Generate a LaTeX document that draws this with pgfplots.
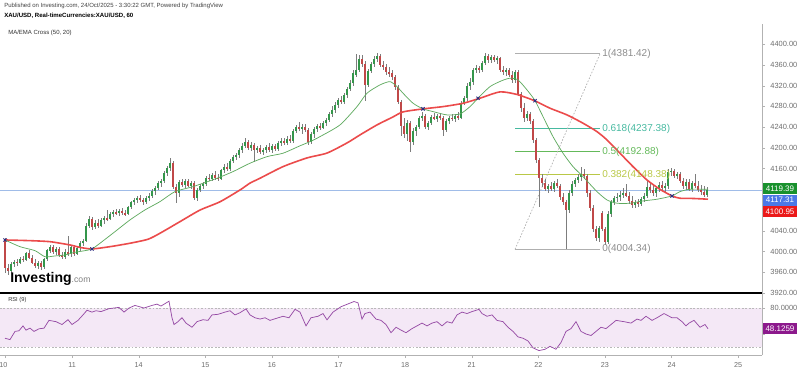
\documentclass[border=0pt]{standalone}
\usepackage{pgfplots}
\usepackage{pgfplotstable}
\pgfplotsset{compat=1.18}
\usepackage{fontspec}
\setmainfont{Liberation Sans}
\definecolor{cup}{RGB}{52,150,75}
\definecolor{cdn}{RGB}{192,72,72}
\definecolor{wick}{RGB}{125,125,125}
\definecolor{ma}{RGB}{235,75,75}
\definecolor{ema}{RGB}{95,170,95}
\definecolor{cur}{RGB}{160,188,232}
\definecolor{lbl}{RGB}{110,110,110}
\definecolor{fibgray}{RGB}{175,175,175}
\definecolor{fib618}{RGB}{70,185,160}
\definecolor{fib5}{RGB}{100,185,90}
\definecolor{fib382}{RGB}{185,200,70}
\definecolor{boxg}{RGB}{25,145,45}
\definecolor{boxb}{RGB}{75,120,230}
\definecolor{boxr}{RGB}{235,25,25}
\definecolor{boxp}{RGB}{140,25,140}
\definecolor{rsiline}{RGB}{150,75,165}
\definecolor{rsibg}{RGB}{244,232,246}
\definecolor{cross}{RGB}{45,45,130}
\pgfplotstableread{
x o h l c d
5 4022 4026 3958 3968 0
8 3968 3975 3955 3962 0
11 3962 3980 3958 3976 1
14 3976 3984 3970 3980 1
17 3980 3986 3972 3978 0
20 3978 3990 3975 3986 1
23 3986 3992 3980 3984 0
26 3984 4000 3982 3998 1
29 3998 4003 3985 3988 0
32 3988 3994 3975 3978 0
35 3978 3985 3968 3972 0
38 3972 3982 3966 3978 1
41 3978 3982 3965 3970 0
44 3970 3988 3966 3985 1
47 3985 4005 3982 4002 1
50 4002 4012 3998 4008 1
53 4008 4012 3996 4000 0
56 4000 4008 3994 4004 1
59 4004 4008 3990 3994 0
62 3994 4000 3986 3990 0
65 3990 4004 3985 4000 1
68 4000 4030 3992 3996 0
71 3996 4012 3990 4008 1
74 4008 4012 3992 3996 0
77 3996 4010 3993 4006 1
80 4006 4020 4002 4016 1
83 4016 4024 4010 4020 1
86 4020 4055 4018 4050 1
89 4050 4068 4045 4062 1
92 4062 4066 4042 4048 0
95 4048 4060 4044 4056 1
98 4056 4062 4046 4050 0
101 4050 4064 4048 4060 1
104 4060 4068 4054 4064 1
107 4064 4080 4058 4062 0
110 4062 4076 4060 4072 1
113 4072 4080 4066 4076 1
116 4076 4082 4070 4074 0
119 4074 4082 4068 4078 1
122 4078 4084 4070 4074 0
125 4074 4080 4068 4072 0
128 4072 4088 4070 4086 1
131 4086 4098 4082 4096 1
134 4096 4104 4090 4100 1
137 4100 4108 4094 4104 1
140 4104 4110 4096 4100 0
143 4100 4104 4090 4096 0
146 4096 4108 4092 4104 1
149 4104 4112 4098 4108 1
152 4108 4120 4104 4116 1
155 4116 4126 4110 4122 1
158 4122 4136 4118 4132 1
161 4132 4140 4124 4136 1
164 4136 4156 4132 4152 1
167 4152 4166 4146 4162 1
170 4162 4180 4156 4170 1
173 4170 4174 4120 4124 0
176 4124 4130 4094 4112 0
179 4112 4138 4106 4134 1
182 4134 4140 4124 4128 0
185 4128 4140 4122 4136 1
188 4136 4140 4124 4126 0
191 4126 4136 4120 4132 1
194 4132 4136 4100 4104 0
197 4104 4122 4098 4118 1
200 4118 4130 4114 4126 1
203 4126 4134 4120 4130 1
206 4130 4146 4126 4142 1
209 4142 4150 4136 4140 0
212 4140 4152 4136 4148 1
215 4148 4156 4138 4142 0
218 4142 4150 4136 4140 0
221 4140 4160 4138 4158 1
224 4158 4168 4152 4164 1
227 4164 4170 4156 4160 0
230 4160 4178 4156 4174 1
233 4174 4186 4170 4182 1
236 4182 4190 4176 4186 1
239 4186 4200 4180 4196 1
242 4196 4210 4190 4204 1
245 4204 4219 4200 4212 1
248 4212 4216 4196 4200 0
251 4200 4212 4194 4206 1
254 4206 4210 4172 4196 0
257 4196 4204 4190 4200 1
260 4200 4206 4188 4192 0
263 4192 4200 4186 4196 1
266 4196 4206 4190 4202 1
269 4202 4210 4192 4196 0
272 4196 4208 4190 4204 1
275 4204 4208 4194 4198 0
278 4198 4214 4194 4210 1
281 4210 4220 4204 4214 1
284 4214 4220 4206 4210 0
287 4210 4222 4206 4218 1
290 4218 4224 4210 4214 0
293 4214 4236 4210 4232 1
296 4232 4244 4228 4240 1
299 4240 4250 4232 4236 0
302 4236 4246 4226 4240 1
305 4240 4246 4230 4234 0
308 4234 4238 4206 4212 0
311 4212 4230 4208 4226 1
314 4226 4240 4220 4236 1
317 4236 4246 4230 4242 1
320 4242 4248 4234 4238 0
323 4238 4252 4236 4248 1
326 4248 4258 4242 4254 1
329 4254 4270 4250 4266 1
332 4266 4280 4260 4274 1
335 4274 4288 4268 4282 1
338 4282 4296 4276 4292 1
341 4292 4300 4284 4288 0
344 4288 4306 4284 4302 1
347 4302 4318 4296 4314 1
350 4314 4330 4310 4326 1
353 4326 4350 4320 4344 1
356 4340 4382 4336 4350 1
359 4350 4380 4346 4372 1
362 4372 4380 4356 4362 0
365 4362 4368 4290 4322 0
368 4322 4352 4318 4348 1
371 4348 4366 4344 4362 1
374 4362 4378 4356 4372 1
377 4372 4384 4366 4378 1
380 4378 4382 4356 4360 0
383 4360 4368 4350 4356 0
386 4356 4362 4340 4346 0
389 4346 4356 4336 4344 0
392 4344 4350 4330 4336 0
395 4336 4340 4312 4318 0
398 4318 4322 4284 4288 0
401 4288 4292 4222 4242 0
404 4242 4258 4220 4226 0
407 4226 4254 4214 4248 1
410 4248 4252 4192 4212 0
413 4212 4238 4206 4232 1
416 4232 4244 4222 4240 1
419 4240 4262 4236 4258 1
422 4258 4270 4252 4262 1
425 4262 4266 4236 4240 0
428 4240 4252 4234 4248 1
431 4248 4264 4244 4260 1
434 4260 4268 4254 4256 0
437 4256 4266 4250 4262 1
440 4262 4268 4254 4258 0
443 4258 4262 4222 4234 0
446 4234 4256 4230 4252 1
449 4252 4262 4246 4258 1
452 4258 4266 4252 4256 0
455 4256 4266 4250 4262 1
458 4262 4270 4254 4258 0
461 4258 4290 4256 4286 1
464 4286 4300 4282 4296 1
467 4296 4326 4290 4320 1
470 4320 4334 4312 4328 1
473 4328 4354 4322 4350 1
476 4350 4360 4344 4354 1
479 4354 4358 4344 4350 0
482 4350 4368 4346 4364 1
485 4364 4384 4360 4378 1
488 4378 4382 4364 4370 0
491 4370 4380 4364 4376 1
494 4376 4380 4366 4370 0
497 4370 4378 4362 4374 1
500 4374 4376 4346 4350 0
503 4350 4358 4340 4346 0
506 4346 4354 4338 4350 1
509 4350 4354 4336 4340 0
512 4340 4348 4326 4330 0
515 4330 4350 4326 4346 1
518 4346 4350 4300 4304 0
521 4304 4308 4270 4276 0
524 4276 4286 4250 4258 0
527 4258 4272 4252 4266 1
530 4266 4270 4246 4252 0
533 4252 4256 4210 4216 0
536 4216 4220 4170 4176 0
539 4176 4180 4086 4142 0
542 4142 4150 4124 4132 0
545 4132 4140 4116 4120 0
548 4120 4130 4112 4126 1
551 4126 4134 4116 4120 0
554 4120 4136 4114 4132 1
557 4132 4140 4122 4126 0
560 4126 4130 4100 4106 0
563 4106 4112 4090 4096 0
566 4096 4100 4004 4080 0
569 4080 4118 4074 4112 1
572 4112 4136 4108 4130 1
575 4130 4142 4124 4138 1
578 4138 4150 4132 4144 1
581 4144 4163 4136 4150 1
584 4150 4160 4140 4146 0
587 4146 4150 4106 4112 0
590 4112 4118 4078 4084 0
593 4084 4090 4038 4044 0
596 4044 4050 4020 4026 0
599 4026 4050 4018 4046 1
602 4074 4078 4040 4044 0
605 4044 4048 4012 4018 0
608 4018 4078 4014 4072 1
611 4072 4100 4066 4096 1
614 4096 4108 4090 4104 1
617 4104 4112 4096 4106 1
620 4106 4116 4098 4110 1
623 4110 4122 4104 4112 1
626 4112 4130 4106 4108 0
629 4108 4114 4092 4098 0
632 4098 4108 4084 4090 0
635 4090 4100 4084 4096 1
638 4096 4102 4086 4092 0
641 4092 4106 4088 4102 1
644 4102 4112 4096 4108 1
647 4108 4138 4104 4124 1
650 4124 4132 4112 4118 0
653 4118 4128 4108 4112 0
656 4112 4126 4106 4122 1
659 4122 4134 4114 4128 1
662 4128 4136 4116 4122 0
665 4122 4132 4112 4126 1
668 4126 4160 4120 4154 1
671 4154 4162 4146 4156 1
674 4156 4160 4142 4146 0
677 4146 4154 4140 4150 1
680 4150 4154 4132 4136 0
683 4136 4142 4120 4126 0
686 4126 4140 4118 4134 1
689 4134 4140 4116 4120 0
692 4120 4136 4114 4132 1
695 4132 4150 4122 4126 0
698 4126 4136 4114 4118 0
701 4118 4128 4110 4114 0
704 4114 4126 4106 4110 0
707 4110 4124 4106 4119.39 1
}\candles
\begin{document}
\begin{tikzpicture}
\useasboundingbox (0pt,0pt) rectangle (600pt,279pt);
% ---------- main price panel ----------
\begin{axis}[
  at={(0pt,59.25pt)}, anchor=south west, scale only axis,
  width=571.5pt, height=201.75pt,
  xmin=0, xmax=762, ymin=3920, ymax=4439,
  axis x line=none, axis y line=right,
  y axis line style={-, draw=gray!60},
  ytick={3920,3960,4000,4040,4080,4120,4160,4200,4240,4280,4320,4360,4400},
  yticklabels={3920.00,3960.00,4000.00,4040.00,,,4160.00,4200.00,4240.00,4280.00,4320.00,4360.00,4400.00},
  ytick style={draw=gray!60},
  tick align=outside, major tick length=2.25pt,
  y tick label style={font=\fontsize{5.6}{6.5}\selectfont, text=lbl, xshift=0.5pt},
  clip=false,
]
% current price line
\addplot[cur, line width=0.5pt] coordinates {(0,4117.31) (762,4117.31)};
% fibonacci levels
\addplot[fibgray, line width=0.6pt] coordinates {(515,4381.42) (600,4381.42)};
\addplot[fib618, line width=0.5pt] coordinates {(515,4237.38) (600,4237.38)};
\addplot[fib5, line width=0.5pt] coordinates {(515,4192.88) (600,4192.88)};
\addplot[fib382, line width=0.5pt] coordinates {(515,4148.38) (600,4148.38)};
\addplot[fibgray, line width=0.6pt] coordinates {(515,4004.34) (600,4004.34)};
\addplot[fibgray, line width=0.5pt, dash pattern=on 1.2pt off 1.2pt] coordinates {(515,4004.34) (600,4381.42)};
% wicks
\addplot[draw=none, mark=none,
  error bars/.cd, y dir=both, y explicit, error mark=none,
  error bar style={line width=0.45pt, draw=wick}]
  table[x=x, y expr={(\thisrow{h}+\thisrow{l})/2}, y error expr={(\thisrow{h}-\thisrow{l})/2}] {\candles};
% up bodies
\addplot[draw=none, mark=none, restrict expr to domain={\thisrow{d}}{0.5:2},
  error bars/.cd, y dir=both, y explicit, error mark=none,
  error bar style={line width=1.6pt, draw=cup}]
  table[x=x, y expr={(\thisrow{o}+\thisrow{c})/2}, y error expr={max(abs(\thisrow{c}-\thisrow{o})/2,0.8)}] {\candles};
% down bodies
\addplot[draw=none, mark=none, restrict expr to domain={\thisrow{d}}{-1:0.5},
  error bars/.cd, y dir=both, y explicit, error mark=none,
  error bar style={line width=1.6pt, draw=cdn}]
  table[x=x, y expr={(\thisrow{o}+\thisrow{c})/2}, y error expr={max(abs(\thisrow{c}-\thisrow{o})/2,0.8)}] {\candles};
% MA 50
\addplot[ma, line width=1.2pt, smooth, tension=0.4] coordinates {
(5,4022.3) (30,4021) (50,4019) (70,4012.7) (80,4008) (92,4005) (110,4009.4) (130,4016)
(148,4023.7) (160,4035.3) (180,4057.7) (200,4080) (220,4096) (240,4118.8) (250,4132)
(260,4141.4) (283,4163.8) (307,4180.6) (327,4190) (347,4209.5) (360,4225) (377,4244.3)
(393,4259.7) (403,4269.4) (423,4275.2) (443,4279.6) (463,4286) (480,4295.8) (500,4308)
(517,4303) (535,4290.6) (550,4276.5) (567,4263.6) (583,4247.6) (597,4231.3) (607,4215.3)
(620,4189.7) (633,4163.8) (647,4138) (660,4120) (672,4107.3) (680,4102.8) (693,4102.4) (708,4100.95)};
% EMA 20
\addplot[ema, line width=0.55pt, smooth, tension=0.4] coordinates {
(5,4022.3) (20,4009.4) (35,4001.7) (45,3990) (55,3991.5) (65,3993.4) (75,3998.6) (85,4001.7)
(92,4005) (100,4016) (115,4038.4) (130,4061) (145,4080.3) (160,4096.3) (175,4115.6)
(193,4125.2) (217,4141.4) (233,4154.2) (250,4170.4) (267,4183.1) (283,4189.7) (300,4204)
(310,4212) (320,4221.7) (340,4244.3) (357,4279.6) (367,4305.5) (380,4321.5) (390,4327.8)
(397,4318.2) (403,4305.5) (413,4286.2) (423,4275.2) (433,4270) (447,4263.6) (460,4265.5)
(470,4279.6) (478,4295.8) (490,4318.2) (502,4329.8) (510,4334.4) (518,4331.1) (527,4311.8)
(535,4291.2) (543,4260.3) (553,4221.7) (563,4189.7) (573,4163.8) (583,4144.5) (597,4115.6)
(607,4099.5) (617,4093.2) (630,4093.2) (643,4097.6) (657,4100.9) (672,4107.3) (680,4115.6)
(690,4120.2) (708,4120.2)};
% cross markers
\addplot[only marks, mark=x, mark size=1.7pt, line width=0.7pt, color=cross] coordinates {
(5,4022.3) (92,4005) (423,4275.2) (478,4295.8) (535,4291) (672,4107.3)};
% fib labels
\node[anchor=west, inner sep=0pt, text=fibgray!80!black, font=\fontsize{7.5}{8}\selectfont] at (axis cs:602,4381.42) {1(4381.42)};
\node[anchor=west, inner sep=0pt, text=fib618, font=\fontsize{7.5}{8}\selectfont] at (axis cs:602,4237.38) {0.618(4237.38)};
\node[anchor=west, inner sep=0pt, text=fib5, font=\fontsize{7.5}{8}\selectfont] at (axis cs:602,4192.88) {0.5(4192.88)};
\node[anchor=west, inner sep=0pt, text=fib382, font=\fontsize{7.5}{8}\selectfont] at (axis cs:602,4148.38) {0.382(4148.38)};
\node[anchor=west, inner sep=0pt, text=fibgray!80!black, font=\fontsize{7.5}{8}\selectfont] at (axis cs:602,4004.34) {0(4004.34)};
% price boxes
\node[anchor=west, fill=boxg, text=white, inner xsep=1.6pt, inner ysep=1.2pt, minimum height=8.3pt, minimum width=25.5pt, font=\fontsize{6}{7}\selectfont] at (axis cs:762.7,4120.8) {4119.39};
\node[anchor=west, fill=boxb, text=white, inner xsep=1.6pt, inner ysep=1.2pt, minimum height=8.3pt, minimum width=25.5pt, font=\fontsize{6}{7}\selectfont] at (axis cs:762.7,4099.0) {4117.31};
\node[anchor=west, fill=boxr, text=white, inner xsep=1.6pt, inner ysep=1.2pt, minimum height=8.3pt, minimum width=25.5pt, font=\fontsize{6}{7}\selectfont] at (axis cs:762.7,4077.0) {4100.95};
\end{axis}
% ---------- RSI panel ----------
\begin{axis}[
  at={(0pt,12.75pt)}, anchor=south west, scale only axis,
  width=571.5pt, height=46.5pt,
  xmin=0, xmax=762, ymin=7.7, ymax=103.1,
  axis x line=bottom, axis y line=right,
  x axis line style={-, draw=gray!60}, y axis line style={-, draw=gray!60},
  xtick={5.5,72.1,138.7,205.3,271.9,338.5,405.1,471.7,538.3,604.9,671.5,738.1},
  xticklabels={\llap{1}0,11,14,15,16,17,18,21,22,23,24,25},
  ytick={40,80},
  yticklabels={,80.0000},
  tick align=outside, major tick length=2.25pt,
  xtick style={draw=gray!60}, ytick style={draw=gray!60},
  x tick label style={font=\fontsize{5.4}{6}\selectfont, text=lbl},
  y tick label style={font=\fontsize{5.6}{6.5}\selectfont, text=lbl, xshift=0.5pt},
  clip=false,
]
\addplot[fill=rsibg, draw=none] coordinates {(0,20) (762,20) (762,80) (0,80)} -- cycle;
\addplot[gray!55, line width=0.5pt, dash pattern=on 1.3pt off 1.3pt] coordinates {(0,80) (762,80)};
\addplot[gray!55, line width=0.5pt, dash pattern=on 1.3pt off 1.3pt] coordinates {(0,20) (762,20)};
\addplot[black, line width=1.1pt] coordinates {(0,103.1) (762,103.1)};
\addplot[rsiline, line width=0.55pt] coordinates {
(5,33.5)(10,31.4)(15,44)(19,45)(23,52.5)(26,46)(30,49)(34,44)(39,48)(44,49)(49,61)(56,59)(62,54.6)(68,62)(72,54.6)(78,61)(83,69.4)(87,76.6)(92,73.7)(96,75.8)(101,74.5)(109,79)(119,81)(124,73.7)(129,80)(135,84)(144,80)(152,84)(157,86)(161,83)(169,90.5)(172,65)(174,54.6)(178,59)(182,65)(186,56.8)(192,50.4)(197,59)(203,62)(208,61)(212,69.4)(218,70.3)(225,73.7)(230,75.8)(235,69.4)(240,72.8)(246,78.7)(250,69.4)(255,65)(260,63)(265,65)(270,61)(277,64.4)(283,67.3)(289,65)(295,78)(300,73.7)(306,52.5)(311,65)(318,67.3)(323,71.5)(327,61.8)(333,73.7)(341,82)(348,86.3)(354,90)(358,88)(362,63)(365,71.5)(370,73.7)(376,63)(381,61)(386,54.6)(391,42)(396,50.4)(401,46)(406,42)(412,48.3)(417,52.5)(422,56.8)(427,52.5)(432,56.8)(437,59)(442,52.5)(447,59)(452,56.8)(457,69.4)(462,73.7)(467,71.5)(472,74.5)(479,77.9)(482,71.5)(487,67.3)(492,69.4)(497,61)(503,59)(508,50.4)(513,44)(518,35.6)(523,33.5)(528,29.3)(533,18.7)(539,14.5)(545,16.5)(550,21)(556,16.6)(561,27)(566,44)(571,48.3)(576,59)(581,44)(586,40)(591,37.7)(596,44)(601,50.4)(606,48.3)(611,54.6)(616,61)(624,59)(631,56.8)(637,63)(641,61)(646,67.3)(652,61)(657,65)(664,71.5)(672,65)(677,65)(682,59)(686,52.5)(689,56.8)(694,61)(700,50.4)(705,54.6)(708,48.1259)};
\node[anchor=west, fill=boxp, text=white, inner xsep=1.6pt, inner ysep=1.2pt, minimum height=8.3pt, minimum width=25.5pt, font=\fontsize{6}{7}\selectfont] at (axis cs:762.7,48.1259) {48.1259};
\end{axis}
% ---------- texts ----------
\node[anchor=west, inner sep=0pt, font=\fontsize{4.5}{5}\selectfont, text=black!75] at (3pt,274.5pt) {Published on Investing.com, 24/Oct/2025 - 3:30:22 GMT, Powered by TradingView};
\node[anchor=west, inner sep=0pt, font=\fontsize{4.55}{5}\selectfont\bfseries, text=black] at (3pt,267pt) {XAU/USD, Real-timeCurrencies:XAU/USD, 60};
\node[anchor=west, inner sep=0pt, font=\fontsize{4.5}{5}\selectfont, text=black!80] at (6pt,254.25pt) {MA/EMA Cross (50, 20)};
\node[anchor=west, inner sep=0pt, font=\fontsize{4.3}{5}\selectfont, text=black!80] at (6pt,54pt) {RSI (9)};
\node[anchor=base west, inner sep=0pt] at (7.5pt,67.5pt) {{\fontsize{10.5}{12}\selectfont\bfseries Investing}{\fontsize{6.5}{8}\selectfont\color{gray}.com}};
\end{tikzpicture}
\end{document}
